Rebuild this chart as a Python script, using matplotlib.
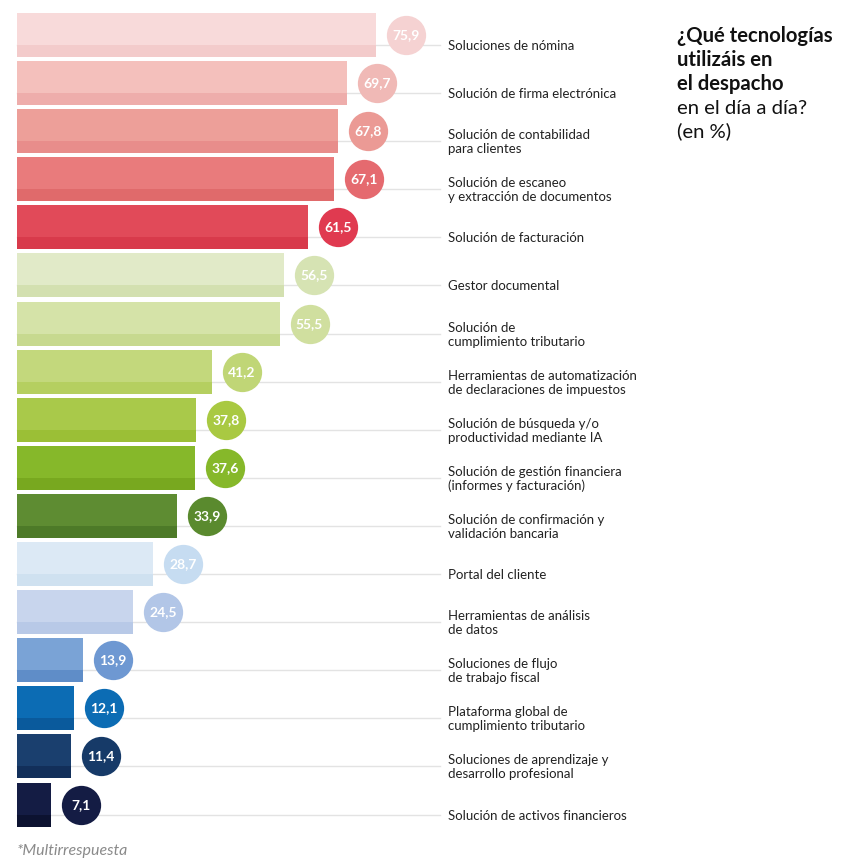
import matplotlib
matplotlib.use("Agg")
import matplotlib.pyplot as plt

plt.rcParams['font.family'] = ['Lato', 'DejaVu Sans']

# Data
labels = ['Soluciones de nómina',
          'Solución de firma electrónica',
          'Solución de contabilidad\npara clientes',
          'Solución de escaneo\ny extracción de documentos',
          'Solución de facturación',
          'Gestor documental',
          'Solución de\ncumplimiento tributario',
          'Herramientas de automatización\nde declaraciones de impuestos',
          'Solución de búsqueda y/o\nproductividad mediante IA',
          'Solución de gestión financiera\n(informes y facturación)',
          'Solución de confirmación y\nvalidación bancaria',
          'Portal del cliente',
          'Herramientas de análisis\nde datos',
          'Soluciones de flujo\nde trabajo fiscal',
          'Plataforma global de\ncumplimiento tributario',
          'Soluciones de aprendizaje y\ndesarrollo profesional',
          'Solución de activos financieros']
values = [75.9, 69.7, 67.8, 67.1, 61.5, 56.5, 55.5, 41.2, 37.8, 37.6,
          33.9, 28.7, 24.5, 13.9, 12.1, 11.4, 7.1]

bar_colors = ['#f8dada', '#f4c0bc', '#ed9f99', '#e97b7c', '#e14a59',
              '#e1eac8', '#d5e3a8', '#c3d87c', '#a9c94a', '#86b82a',
              '#5e8c32', '#dce9f5', '#c8d5ed', '#7aa3d6', '#0c6cb4',
              '#1a3f6e', '#141c44']
strip_colors = ['#f3cbcb', '#eeadab', '#e88d8b', '#e06a6b', '#d83a4b',
                '#d3e0b0', '#c7d98f', '#b5cf60', '#9bbf36', '#78a81f',
                '#4d7a28', '#cfe1f0', '#b8c9e7', '#5f8dc8', '#0a5a9c',
                '#122f5a', '#0c1230']
circle_colors = ['#f5d2d2', '#f0b9b6', '#eb9a95', '#e56a6f', '#e03a50',
                 '#d6e3b3', '#d0df9f', '#c0d676', '#a9c942', '#86b82a',
                 '#5a8a2e', '#c6dcf1', '#b2c6e7', '#6e98d2', '#0c6cb4',
                 '#163a68', '#141c44']

# Layout (pixel scale -> data units)
W, H = 848, 867
px_x = 4.73      # pixels per percent
px_y = 48.1      # pixels per row
x0 = 17
y0 = 35

fig = plt.figure(figsize=(W / 100, H / 100), dpi=100)
ax = fig.add_axes([0, 0, 1, 1])
ax.set_xlim(-x0 / px_x, (W - x0) / px_x)
ax.set_ylim((H - y0) / px_y, -y0 / px_y)
ax.axis('off')

rows = range(len(values))
bh = 44 / px_y
sh = 12 / px_y
line_off = 10 / px_y

for i in rows:
    v = values[i]
    ax.plot([0, (440 - x0) / px_x], [i + line_off, i + line_off],
            color='#e3e3e3', lw=1, zorder=1)
    ax.barh(i, v, height=bh, color=bar_colors[i], zorder=2)
    ax.barh(i + bh / 2 - sh / 2, v, height=sh, color=strip_colors[i], zorder=3)
    cx = v + 30 / px_x
    ax.scatter(cx, i, s=800, color=circle_colors[i], zorder=4, linewidths=0)
    ax.text(cx, i, str(v).replace('.', ','), color='white', fontsize=10,
            fontweight='bold', ha='center', va='center', zorder=5)
    ax.text((448 - x0) / px_x, i + line_off + 1 / px_y, labels[i], fontsize=9.5,
            color='#222222', ha='left', va='center', linespacing=1.2)

# Title
title_bold = ['¿Qué tecnologías', 'utilizáis en', 'el despacho']
title_reg = ['en el día a día?', '(en %)']
ty = [36, 60, 84, 108, 131]
for j, t in enumerate(title_bold + title_reg):
    fig.text(677 / W, 1 - ty[j] / H, t, fontsize=14.6,
             fontweight='bold' if j < 3 else 'normal', color='#111111',
             ha='left', va='center')

fig.text(17 / W, 1 - 851 / H, '*Multirrespuesta', fontsize=11.5,
         style='italic', color='#8a8a8a', ha='left', va='center')

fig.savefig('out.png', dpi=100)
